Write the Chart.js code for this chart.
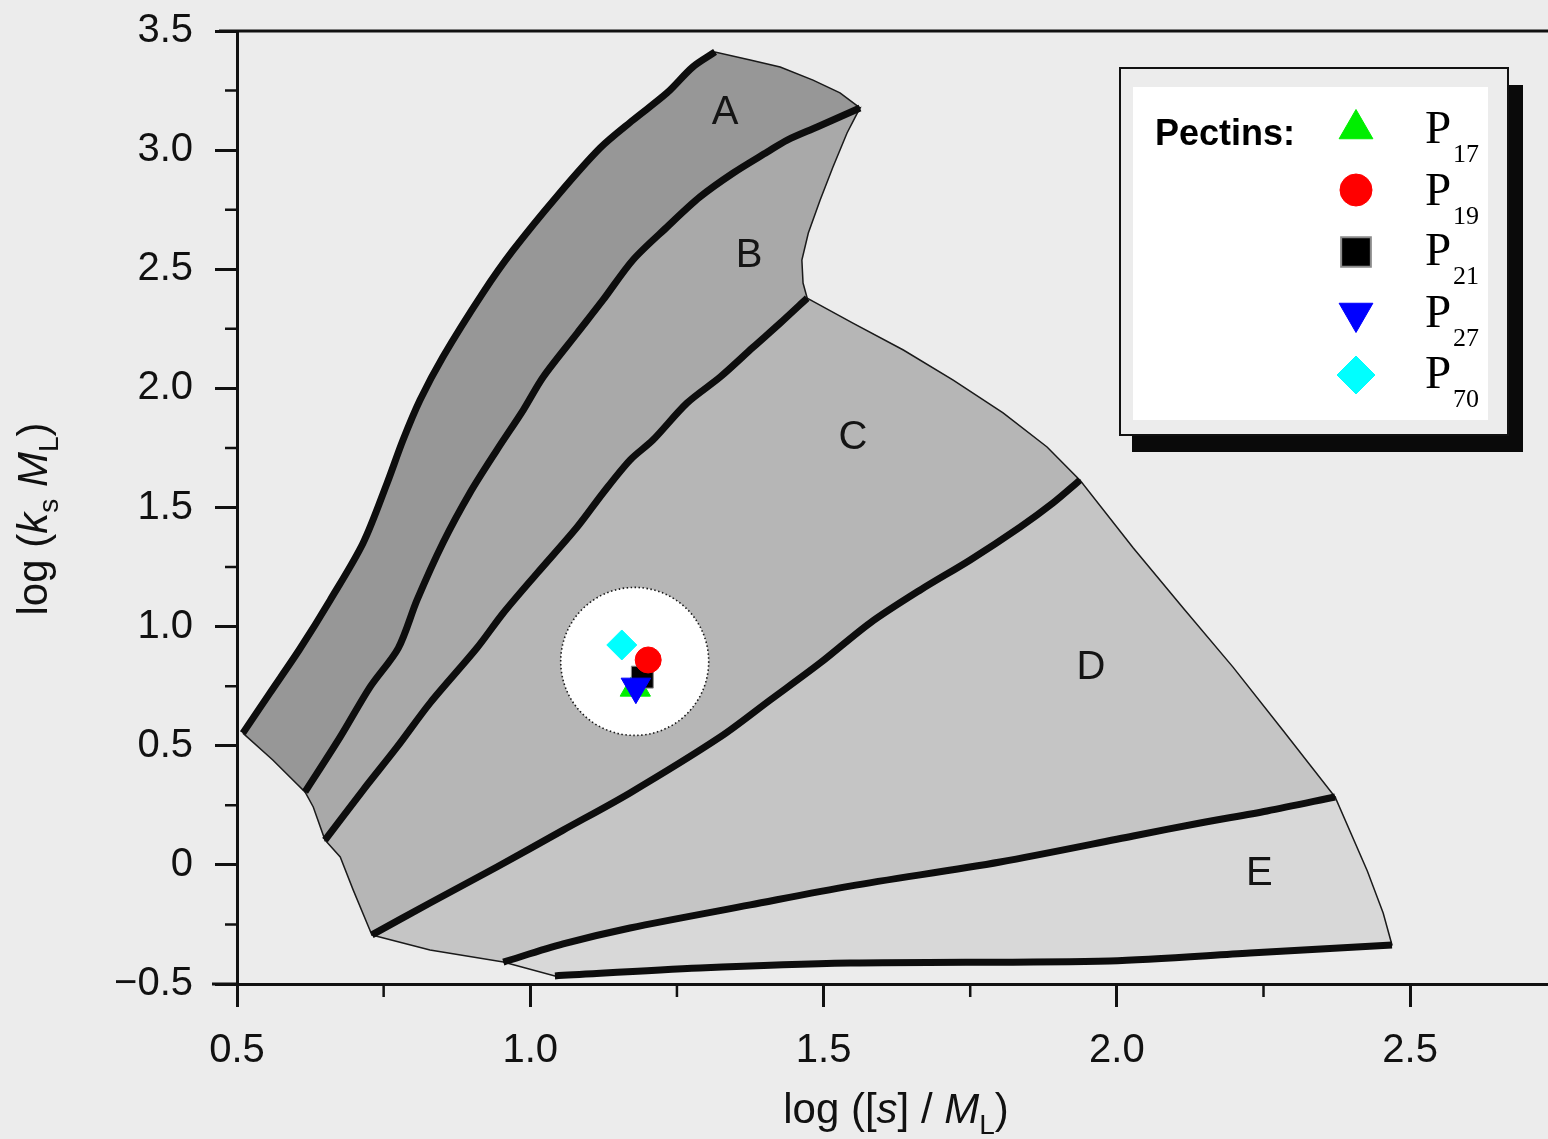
<!DOCTYPE html>
<html>
<head>
<meta charset="utf-8">
<script src="https://cdn.jsdelivr.net/npm/chart.js@4.4.1/dist/chart.umd.min.js"></script>
<style>
  html, body { margin: 0; padding: 0; background: #ececec; }
  #chart_canvas { display: block; }
</style>
</head>
<body>
<canvas id="chart_canvas" width="1548" height="1139"></canvas>
<script>
// x = log([s]/ML), y = log(ks ML)
const xRange = [0.5, 2.735];
const yRange = [-0.5, 3.5];
const xTickValues = [0.5, 1.0, 1.5, 2.0, 2.5];
const xTickLabels = ["0.5", "1.0", "1.5", "2.0", "2.5"];
const xMinorTicks = [0.75, 1.25, 1.75, 2.25];
const yTickValues = [-0.5, 0, 0.5, 1.0, 1.5, 2.0, 2.5, 3.0, 3.5];
const yTickLabels = ["\u22120.5", "0", "0.5", "1.0", "1.5", "2.0", "2.5", "3.0", "3.5"];
const yMinorTicks = [-0.25, 0.25, 0.75, 1.25, 1.75, 2.25, 2.75, 3.25];

// thick zone boundaries, lower-left end first
const edgeOuter = [[0.510,0.553],[0.556,0.721],[0.607,0.906],[0.659,1.112],[0.715,1.351],[0.756,1.603],[0.783,1.783],[0.812,1.951],[0.851,2.132],[0.919,2.400],[0.971,2.581],[1.047,2.811],[1.119,3.009],[1.175,3.126],[1.233,3.240],[1.277,3.349],[1.315,3.412]];
const edgeAB = [[0.616,0.306],[0.676,0.537],[0.727,0.747],[0.775,0.910],[0.807,1.112],[0.851,1.351],[0.897,1.561],[0.943,1.741],[0.988,1.909],[1.022,2.048],[1.080,2.232],[1.124,2.371],[1.175,2.539],[1.233,2.677],[1.289,2.803],[1.346,2.904],[1.404,2.992],[1.438,3.042],[1.489,3.097],[1.562,3.177]];
const edgeBC = [[0.650,0.104],[0.715,0.314],[0.773,0.495],[0.829,0.679],[0.909,0.910],[0.954,1.057],[1.012,1.225],[1.080,1.418],[1.124,1.561],[1.170,1.699],[1.209,1.783],[1.267,1.938],[1.324,2.048],[1.380,2.173],[1.426,2.274],[1.472,2.379]];
const edgeCD = [[0.730,-0.294],[0.829,-0.160],[0.943,-0.009],[1.056,0.146],[1.170,0.302],[1.324,0.537],[1.409,0.692],[1.494,0.847],[1.579,1.015],[1.665,1.154],[1.750,1.280],[1.835,1.418],[1.891,1.519],[1.937,1.615]];
const edgeDE = [[0.954,-0.408],[1.056,-0.332],[1.170,-0.265],[1.375,-0.168],[1.545,-0.089],[1.801,0.012],[2.028,0.121],[2.142,0.176],[2.256,0.226],[2.372,0.285]];
const edgeBottom = [[1.042,-0.466],[1.289,-0.433],[1.545,-0.412],[1.988,-0.403],[2.227,-0.370],[2.469,-0.336]];

// thin outer rims between the boundary ends
const rimTopA = [[1.375,3.378],[1.426,3.349],[1.482,3.294],[1.528,3.240]];
const rimLeftA = [[0.561,0.440]];
const rimRightB = [[1.540,3.072],[1.516,2.929],[1.494,2.790],[1.474,2.652],[1.463,2.539],[1.465,2.442]];
const rimLeftB = [[0.630,0.243]];
const rimTopC = [[1.550,2.274],[1.636,2.161],[1.721,2.035],[1.806,1.897],[1.881,1.754]];
const rimLeftC = [[0.698,-0.105],[0.676,0.033]];
const rimRightD = [[2.028,1.330],[2.113,1.078],[2.198,0.830],[2.284,0.562]];
const rimLeftD = [[0.829,-0.357]];
const rimRightE = [[2.427,-0.026],[2.454,-0.202]];

const zoneNames = ["A", "B", "C", "D", "E"];
const zoneLabelX = [1.332, 1.373, 1.550, 1.956, 2.243];
const zoneLabelY = [3.156, 2.555, 1.792, 0.826, -0.038];

const pectinNames = ["17", "19", "21", "27", "70"];
const pectinX = [1.179, 1.201, 1.191, 1.180, 1.156];
const pectinY = [0.745, 0.860, 0.788, 0.748, 0.923];
const haloCenter = [1.178, 0.854];

const FAMILY = "'Liberation Sans', Arial, Helvetica, sans-serif";
const SERIF = "'Liberation Serif', 'Times New Roman', serif";
const zoneFill = ["#979797", "#a9a9a9", "#b6b6b6", "#c5c5c5", "#d8d8d8"];

const pectinLook = [
  {style: "triangle", rotation: 0,   color: "#00ee00", border: "#00ee00", r: 17.5, legendR: 19.5, order: 4},
  {style: "circle",   rotation: 0,   color: "#ff0000", border: "#ff0000", r: 13,   legendR: 16,   order: 1},
  {style: "rect",     rotation: 0,   color: "#000000", border: "#8a8a8a", r: 15.5, legendR: 21,   order: 3},
  {style: "triangle", rotation: 180, color: "#0000ff", border: "#0000ff", r: 17,   legendR: 19.5, order: 2},
  {style: "rectRot",  rotation: 0,   color: "#00ffff", border: "#00ffff", r: 15,   legendR: 19,   order: 0}
];

const toPts = arr => arr.map(([x, y]) => ({x, y}));
const rev = arr => arr.slice().reverse();

function zone(...parts)
{
  const pts = [].concat(...parts);
  pts.push(pts[0]);
  return toPts(pts);
}

const zones = [
  zone(edgeOuter, rimTopA, rev(edgeAB), rimLeftA),
  zone(edgeAB, rimRightB, rev(edgeBC), rimLeftB),
  zone(edgeBC, rimTopC, rev(edgeCD), rimLeftC),
  zone(edgeCD, rimRightD, rev(edgeDE), rimLeftD),
  zone(edgeDE, rimRightE, rev(edgeBottom))
];

const datasets = [];

pectinNames.forEach((name, i) => {
  const look = pectinLook[i];
  datasets.push({
    label: "P" + name,
    pectin: i,
    data: [{x: pectinX[i], y: pectinY[i]}],
    pointStyle: look.style,
    pointRotation: look.rotation,
    pointRadius: look.r,
    pointBackgroundColor: look.color,
    pointBorderColor: look.border,
    pointBorderWidth: 1,
    showLine: false,
    order: look.order
  });
});

// white disc behind the pectin markers; its dotted rim is added by haloRim
datasets.push({
  label: "halo",
  data: [{x: haloCenter[0], y: haloCenter[1]}],
  pointStyle: "circle",
  pointRadius: 74,
  pointBackgroundColor: "#ffffff",
  pointBorderWidth: 0,
  showLine: false,
  order: 5
});

[edgeOuter, edgeAB, edgeBC, edgeCD, edgeDE, edgeBottom].forEach((edge, i) => {
  datasets.push({
    label: "edge" + i,
    data: toPts(edge),
    showLine: true,
    fill: false,
    borderColor: "#0d0d0d",
    borderWidth: 7,
    borderJoinStyle: "round",
    pointRadius: 0,
    tension: 0.3,
    order: 6
  });
});

zones.forEach((pts, i) => {
  datasets.push({
    label: "zone " + zoneNames[i],
    data: pts,
    showLine: true,
    fill: "shape",
    backgroundColor: zoneFill[i],
    borderColor: "#1a1a1a",
    borderWidth: 1.5,
    pointRadius: 0,
    tension: 0,
    order: 7
  });
});

function drawRuns(ctx, runs, cx, baseY, size)
{
  const subSize = Math.round(size * 0.67);
  const fonts = {
    n: size + "px " + FAMILY,
    i: "italic " + size + "px " + FAMILY,
    sub: subSize + "px " + FAMILY
  };
  let width = 0;
  runs.forEach(([t, s]) => { ctx.font = fonts[s]; width += ctx.measureText(t).width; });
  let x = cx - width / 2;
  runs.forEach(([t, s]) => {
    ctx.font = fonts[s];
    ctx.fillText(t, x, baseY + (s === "sub" ? 11 : 0));
    x += ctx.measureText(t).width;
  });
}

const haloRim = {
  id: "haloRim",
  afterDatasetDraw(chart, args)
  {
    const ds = chart.data.datasets[args.index];
    if(ds.label != "halo")
      return;
    const pt = args.meta.data[0];
    const ctx = chart.ctx;
    ctx.save();
    ctx.strokeStyle = "#1a1a1a";
    ctx.lineWidth = 1.6;
    ctx.setLineDash([1.5, 2.5]);
    ctx.beginPath();
    ctx.arc(pt.x, pt.y, pt.options.radius, 0, Math.PI * 2);
    ctx.stroke();
    ctx.restore();
  }
};

const frameLines = {
  id: "frameLines",
  afterDatasetsDraw(chart)
  {
    const {ctx, scales} = chart;
    ctx.save();
    ctx.fillStyle = "#141414";
    ctx.font = "40px " + FAMILY;
    ctx.textAlign = "center";
    ctx.textBaseline = "middle";
    zoneNames.forEach((n, i) => {
      ctx.fillText(n, scales.x.getPixelForValue(zoneLabelX[i]), scales.y.getPixelForValue(zoneLabelY[i]));
    });
    ctx.restore();
  },
  afterDraw(chart)
  {
    const {ctx, chartArea: a, scales} = chart;
    ctx.save();
    ctx.strokeStyle = "#111";
    ctx.lineWidth = 3;
    ctx.beginPath();
    ctx.moveTo(a.left - 18, a.top);
    ctx.lineTo(chart.width, a.top);
    ctx.moveTo(a.left - 25, a.bottom);
    ctx.lineTo(a.left, a.bottom);
    ctx.stroke();

    ctx.lineWidth = 2.5;
    ctx.beginPath();
    yMinorTicks.forEach(v => {
      const p = scales.y.getPixelForValue(v);
      ctx.moveTo(a.left - 12, p);
      ctx.lineTo(a.left, p);
    });
    xMinorTicks.forEach(v => {
      const p = scales.x.getPixelForValue(v);
      ctx.moveTo(p, a.bottom);
      ctx.lineTo(p, a.bottom + 13);
    });
    ctx.stroke();

    // axis titles with italic symbols and subscripts
    ctx.fillStyle = "#111";
    ctx.textAlign = "left";
    ctx.textBaseline = "alphabetic";
    drawRuns(ctx, [["log ([", "n"], ["s", "i"], ["]", "n"], [" / ", "n"], ["M", "i"], ["L", "sub"], [")", "n"]], 896, 1123, 42);

    ctx.save();
    ctx.translate(47, 519);
    ctx.rotate(-Math.PI / 2);
    drawRuns(ctx, [["log (", "n"], ["k", "i"], ["s", "sub"], [" ", "n"], ["M", "i"], ["L", "sub"], [")", "n"]], 0, 0, 42);
    ctx.restore();

    ctx.restore();
  }
};

const pectinLegend = {
  id: "pectinLegend",
  afterDraw(chart)
  {
    const ctx = chart.ctx;
    ctx.save();
    // drop shadow, frame, white panel
    ctx.fillStyle = "#0a0a0a";
    ctx.fillRect(1132, 435, 391, 17);
    ctx.fillRect(1508, 85, 15, 367);
    ctx.fillStyle = "#ececec";
    ctx.fillRect(1120, 68, 388, 367);
    ctx.strokeStyle = "#111";
    ctx.lineWidth = 2;
    ctx.strokeRect(1120, 68, 388, 367);
    ctx.fillStyle = "#ffffff";
    ctx.fillRect(1133, 87, 355, 333);

    ctx.fillStyle = "#000";
    ctx.textAlign = "left";
    ctx.textBaseline = "alphabetic";
    ctx.font = "bold 36px " + FAMILY;
    ctx.fillText("Pectins:", 1155, 145);

    const markerY = [129, 190, 252, 313, 375];
    const textY = [143, 205, 265, 327, 388];
    chart.data.datasets.filter(ds => ds.pectin !== undefined).forEach(ds => {
      const i = ds.pectin;
      const look = pectinLook[i];
      ctx.fillStyle = look.color;
      ctx.strokeStyle = look.border;
      ctx.lineWidth = look.style === "rect" ? 2 : 1;
      Chart.helpers.drawPoint(ctx, {
        pointStyle: look.style,
        rotation: look.rotation,
        radius: look.legendR,
        borderWidth: ctx.lineWidth
      }, 1356, markerY[i]);

      ctx.fillStyle = "#000";
      ctx.font = "47px " + SERIF;
      ctx.fillText("P", 1425, textY[i]);
      ctx.font = "26px " + SERIF;
      ctx.fillText(pectinNames[i], 1453, textY[i] + 19);
    });
    ctx.restore();
  }
};

const tickFont = {family: FAMILY, size: 40};

// fixed axis boxes: no extra room for overhanging tick labels
function fixPadding(scale)
{
  scale.paddingTop = 0;
  scale.paddingBottom = 0;
  scale.paddingLeft = 0;
  scale.paddingRight = 0;
}

const config = {
  type: "scatter",
  data: {datasets: datasets},
  options: {
    responsive: false,
    animation: false,
    events: [],
    layout: {autoPadding: false, padding: {top: 31, left: 0, right: 0, bottom: 0}},
    plugins: {
      legend: {display: false},
      tooltip: {enabled: false}
    },
    scales: {
      x: {
        type: "linear",
        position: "bottom",
        min: xRange[0],
        max: xRange[1],
        afterFit: scale => { scale.height = 155; fixPadding(scale); },
        afterBuildTicks: scale => { scale.ticks = xTickValues.map(v => ({value: v})); },
        border: {display: true, color: "#111", width: 3},
        grid: {drawOnChartArea: false, drawTicks: true, tickLength: 23, tickColor: "#111", tickWidth: 3},
        ticks: {
          autoSkip: false,
          maxRotation: 0,
          includeBounds: false,
          padding: 20,
          color: "#111",
          font: tickFont,
          callback: v => xTickLabels[xTickValues.indexOf(v)]
        }
      },
      y: {
        type: "linear",
        position: "left",
        min: yRange[0],
        max: yRange[1],
        afterFit: scale => { scale.width = 237; fixPadding(scale); },
        afterBuildTicks: scale => { scale.ticks = yTickValues.map(v => ({value: v})); },
        border: {display: true, color: "#111", width: 3},
        grid: {drawOnChartArea: false, drawTicks: true, tickLength: 22, tickColor: "#111", tickWidth: 3},
        ticks: {
          autoSkip: false,
          includeBounds: false,
          padding: 22,
          color: "#111",
          font: tickFont,
          callback: v => yTickLabels[yTickValues.indexOf(v)]
        }
      }
    }
  },
  plugins: [haloRim, frameLines, pectinLegend]
};

const chart = new Chart(document.getElementById("chart_canvas"), config);
</script>
</body>
</html>
